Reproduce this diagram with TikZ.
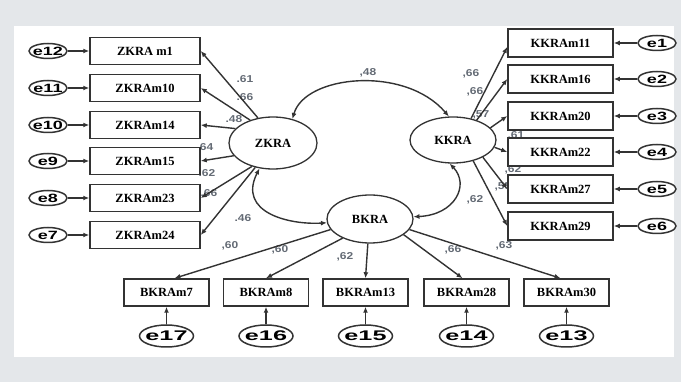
\documentclass[tikz,border=0pt]{standalone}
\usepackage{fontspec}
\setmainfont{Liberation Serif}
\newfontfamily\lblfont[FakeStretch=1.2]{Liberation Sans}
\newfontfamily\efont[FakeStretch=1.5]{Liberation Sans}
\newfontfamily\ebfont[FakeStretch=1.8]{Liberation Sans}
\usetikzlibrary{arrows.meta,shapes.geometric}
\pgfdeclarelayer{back}
\pgfsetlayers{back,main}
\definecolor{bgc}{HTML}{E4E7EA}
\definecolor{ln}{HTML}{333333}
\definecolor{lb}{HTML}{646B75}
\begin{document}
\begin{tikzpicture}[x=1pt,y=-1pt,
  obs/.style={draw=ln,line width=1.5pt,fill=white,minimum height=27pt,inner sep=0pt,font=\bfseries\fontsize{12.5}{12.5}\selectfont},
  lobs/.style={obs,minimum width=110pt},
  robs/.style={obs,minimum width=105pt,minimum height=28pt},
  bobs/.style={obs,minimum width=85pt},
  lat/.style={ellipse,draw=ln,line width=1.3pt,fill=white,inner sep=0pt,font=\bfseries\fontsize{12.5}{12.5}\selectfont},
  err/.style={ellipse,draw=ln,line width=1.5pt,fill=white,inner xsep=-6pt,inner ysep=-3pt,minimum width=38pt,minimum height=15pt,font=\efont\bfseries\fontsize{12}{12}\selectfont},
  berr/.style={err,minimum width=54pt,minimum height=22pt,font=\ebfont\bfseries\fontsize{14}{14}\selectfont},
  lbl/.style={text=lb,font=\lblfont\bfseries\fontsize{10}{10}\selectfont,inner sep=0pt},
  arr/.style={draw=ln,line width=1.4pt,-{Latex[length=6pt,width=5pt]}},
  darr/.style={draw=ln,line width=1.4pt,{Latex[length=6pt,width=5pt]}-{Latex[length=6pt,width=5pt]}}
]
\useasboundingbox (0,0) rectangle (681,382);
\begin{pgfonlayer}{back}
\fill[bgc] (0,0) rectangle (681,382);
\fill[white] (14,26) rectangle (674,357);
\node[lbl] (l1) at (245,79) {.61};
\node[lbl] (l2) at (245,97) {.66};
\node[lbl] (l3) at (234,119) {.48};
\node[lbl] (l4) at (205,147) {.64};
\node[lbl] (l5) at (207,173) {.62};
\node[lbl] (l6) at (209,193) {.66};
\node[lbl] (l7) at (243,218) {.46};
\node[lbl] (l8) at (230,246) {,60};
\node[lbl] (l9) at (280,250) {,60};
\node[lbl] (l10) at (345,257) {,62};
\node[lbl] (l11) at (453,250) {,66};
\node[lbl] (l12) at (504,246) {,63};
\node[lbl] (l13) at (475,200) {,62};
\node[lbl] (l14) at (368,73) {,48};
\node[lbl] (l15) at (471,74) {,66};
\node[lbl] (l16) at (475,92) {,66};
\node[lbl] (l17) at (481,115) {,57};
\node[lbl] (l18) at (516,136) {,61};
\node[lbl] (l19) at (513,170) {,62};
\node[lbl] (l20) at (503,187) {,55};
\end{pgfonlayer}
% latent variables
\node[lat,minimum width=88pt,minimum height=52pt] (Z) at (273,143) {ZKRA};
\node[lat,minimum width=86pt,minimum height=46pt] (K) at (453,140) {KKRA};
\node[lat,minimum width=86pt,minimum height=48pt] (B) at (370,219) {BKRA};
% left indicators
\node[lobs] (Z1) at (145,51) {ZKRA m1};
\node[lobs] (Z10) at (145,88) {ZKRAm10};
\node[lobs] (Z14) at (145,125) {ZKRAm14};
\node[lobs] (Z15) at (145,161) {ZKRAm15};
\node[lobs] (Z23) at (145,198) {ZKRAm23};
\node[lobs] (Z24) at (145,235) {ZKRAm24};
\node[err] (e12) at (48,51) {e12};
\node[err] (e11) at (48,88) {e11};
\node[err] (e10) at (48,125) {e10};
\node[err] (e9) at (48,161) {e9};
\node[err] (e8) at (48,198) {e8};
\node[err] (e7) at (48,235) {e7};
% right indicators
\node[robs] (K11) at (560.5,43) {KKRAm11};
\node[robs] (K16) at (560.5,79) {KKRAm16};
\node[robs] (K20) at (560.5,116) {KKRAm20};
\node[robs] (K22) at (560.5,152) {KKRAm22};
\node[robs] (K27) at (560.5,189) {KKRAm27};
\node[robs] (K29) at (560.5,226) {KKRAm29};
\node[err] (e1) at (657,43) {e1};
\node[err] (e2) at (657,79) {e2};
\node[err] (e3) at (657,116) {e3};
\node[err] (e4) at (657,152) {e4};
\node[err] (e5) at (657,189) {e5};
\node[err] (e6) at (657,226) {e6};
% bottom indicators
\node[bobs] (B7) at (166.5,292.5) {BKRAm7};
\node[bobs] (B8) at (266,292.5) {BKRAm8};
\node[bobs] (B13) at (365.5,292.5) {BKRAm13};
\node[bobs] (B28) at (466.5,292.5) {BKRAm28};
\node[bobs] (B30) at (566.5,292.5) {BKRAm30};
\node[berr] (e17) at (166.5,336) {e17};
\node[berr] (e16) at (266,336) {e16};
\node[berr] (e15) at (365.5,336) {e15};
\node[berr] (e14) at (466.5,336) {e14};
\node[berr] (e13) at (566.5,336) {e13};
% error arrows
\foreach \e/\b in {e12/Z1,e11/Z10,e10/Z14,e9/Z15,e8/Z23,e7/Z24,e1/K11,e2/K16,e3/K20,e4/K22,e5/K27,e6/K29,e17/B7,e16/B8,e15/B13,e14/B28,e13/B30}
  \draw[arr] (\e) -- (\b);
% loadings ZKRA
\draw[arr] (Z.121) -- (Z1.east);
\draw[arr] (Z.135) -- (Z10.east);
\draw[arr] (Z.159) -- (Z14.east);
\draw[arr] (Z.198) -- (Z15.east);
\draw[arr] (Z.228) -- (Z23.east);
\draw[arr] (Z.234) -- (Z24.east);
% loadings KKRA
\draw[arr] (K.50) -- ([yshift=-4pt]K11.west);
\draw[arr] (K.40) -- (K16.west);
\draw[arr] (K.18) -- (K20.west);
\draw[arr] (K.350) -- (K22.west);
\draw[arr] (K.330) -- (K27.west);
\draw[arr] (K.314) -- (K29.west);
% loadings BKRA
\draw[arr] (B.195) -- ([xshift=8pt]B7.north);
\draw[arr] (B.215) -- (B8.north);
\draw[arr] (B.265) -- (B13.north);
\draw[arr] (B.335) -- ([xshift=-4pt]B28.north);
\draw[arr] (B.345) -- ([xshift=-6pt]B30.north);
% covariances
\draw[darr] (Z.51) .. controls (305,75) and (405,65) .. (K.100);
\draw[darr] (Z.242) .. controls (237,213) and (290,225) .. (B.185);
\draw[darr] (K.262) .. controls (470,185) and (455,215) .. (B.3);
\end{tikzpicture}
\end{document}
